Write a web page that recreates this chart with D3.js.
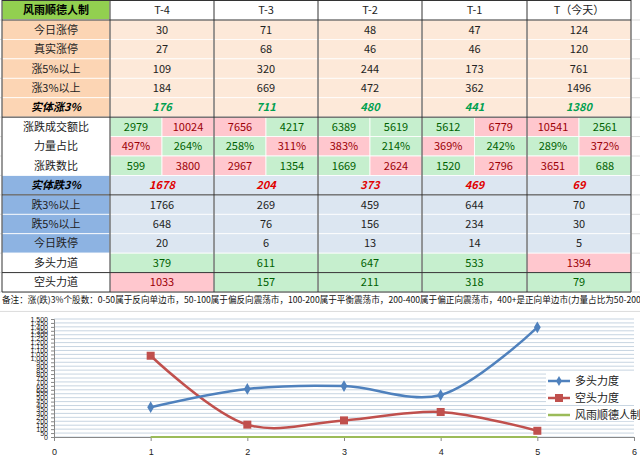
<!DOCTYPE html>
<html><head><meta charset="utf-8">
<script src="https://cdn.jsdelivr.net/npm/d3@7"></script>
<style>body{margin:0;background:#fff}svg{font-family:"Noto Sans CJK SC",sans-serif}</style>
</head><body><svg id="c" width="640" height="465"></svg>
<script>
const columns = ["T-4", "T-3", "T-2", "T-1", "T（今天）"];
const upRows = [
  ["今日涨停", [30, 71, 48, 47, 124]],
  ["真实涨停", [27, 68, 46, 46, 120]],
  ["涨5%以上", [109, 320, 244, 173, 761]],
  ["涨3%以上", [184, 669, 472, 362, 1496]]
];
const realUp = [176, 711, 480, 441, 1380];
const pairRows = [
  ["涨跌成交额比", [[2979, 10024], [7656, 4217], [6389, 5619], [5612, 6779], [10541, 2561]], ["gr", "rg", "gg", "gr", "rg"]],
  ["力量占比", [["497%", "264%"], ["258%", "311%"], ["383%", "214%"], ["369%", "242%"], ["289%", "372%"]], ["rg", "gr", "rg", "rg", "gr"]],
  ["涨跌数比", [[599, 3800], [2967, 1354], [1669, 2624], [1520, 2796], [3651, 688]], ["gr", "rg", "gr", "gr", "rg"]]
];
const realDown = [1678, 204, 373, 469, 69];
const downRows = [
  ["跌3%以上", [1766, 269, 459, 644, 70]],
  ["跌5%以上", [648, 76, 156, 234, 30]],
  ["今日跌停", [20, 6, 13, 14, 5]]
];
const bull = [379, 611, 647, 533, 1394];
const bear = [1033, 157, 211, 318, 79];
const bullColors = "ggggr", bearColors = "rgggg";
const xs = [1, 2, 3, 4, 5];
const note = "备注：涨(跌)3%个股数：0-50属于反向单边市，50-100属于偏反向震荡市，100-200属于平衡震荡市，200-400属于偏正向震荡市，400+是正向单边市(力量占比为50-200区间";

const svg = d3.select("#c");
const colX = [2, 110, 214, 318, 422, 527, 631];
const rowH = 19.43, top0 = 20;
const G = {bg: "#c6efce", fg: "#006100"}, R = {bg: "#ffc7ce", fg: "#9c0006"};

// background sheet grid
for (let yy = top0; yy < 316; yy += rowH) svg.append("line").attr("x1", 0).attr("x2", 640).attr("y1", yy).attr("y2", yy).attr("stroke", "#dcdcdc");

function cell(x0, x1, y, fill, text, color, style) {
  svg.append("rect").attr("x", x0).attr("y", y).attr("width", x1 - x0).attr("height", rowH).attr("fill", fill).attr("stroke", "#fff").attr("stroke-width", 0.8);
  const t = svg.append("text").attr("x", (x0 + x1) / 2).attr("y", y + rowH / 2 + 4).attr("text-anchor", "middle")
    .attr("font-size", 11).attr("fill", color || "#222").text(text);
  if (style) t.attr("font-weight", "bold").attr("font-style", "italic");
  return t;
}

// header
cell(colX[0], colX[1], 0, "#92d050", "风雨顺德人制", "#000", true).attr("font-style", "normal");
columns.forEach((c, i) => cell(colX[i + 1], colX[i + 2], 0, "#fff", c));
let r = 0;
const rowY = () => top0 + r * rowH;
upRows.forEach(([lab, v]) => {
  cell(colX[0], colX[1], rowY(), "#fcd5b4", lab);
  v.forEach((d, i) => cell(colX[i + 1], colX[i + 2], rowY(), "#fde9d9", d));
  r++;
});
cell(colX[0], colX[1], rowY(), "#fcd5b4", "实体涨3%", "#000", true);
realUp.forEach((d, i) => cell(colX[i + 1], colX[i + 2], rowY(), "#fde9d9", d, "#00a050", true));
r++;
pairRows.forEach(([lab, v, cols]) => {
  cell(colX[0], colX[1], rowY(), "#fff", lab);
  v.forEach((p, i) => {
    const mid = (colX[i + 1] + colX[i + 2]) / 2;
    const a = cols[i][0] === "g" ? G : R, b = cols[i][1] === "g" ? G : R;
    cell(colX[i + 1], mid, rowY(), a.bg, p[0], a.fg);
    cell(mid, colX[i + 2], rowY(), b.bg, p[1], b.fg);
  });
  r++;
});
cell(colX[0], colX[1], rowY(), "#8db3e2", "实体跌3%", "#000", true);
realDown.forEach((d, i) => cell(colX[i + 1], colX[i + 2], rowY(), "#dce6f1", d, "#e00000", true));
r++;
downRows.forEach(([lab, v]) => {
  cell(colX[0], colX[1], rowY(), "#8db3e2", lab);
  v.forEach((d, i) => cell(colX[i + 1], colX[i + 2], rowY(), "#dce6f1", d));
  r++;
});
[["多头力道", bull, bullColors], ["空头力道", bear, bearColors]].forEach(([lab, v, cs]) => {
  cell(colX[0], colX[1], rowY(), "#fff", lab);
  v.forEach((d, i) => { const c = cs[i] === "g" ? G : R; cell(colX[i + 1], colX[i + 2], rowY(), c.bg, d, c.fg); });
  r++;
});
const tableBottom = rowY();
colX.forEach(x => svg.append("line").attr("x1", x).attr("x2", x).attr("y1", 0).attr("y2", tableBottom).attr("stroke", "#333"));
[0.5, 1, 6, 10, 14].map(k => k === 0.5 ? 0.5 : top0 + (k - 1) * rowH).concat([tableBottom]).forEach(yy =>
  svg.append("line").attr("x1", colX[0]).attr("x2", colX[6]).attr("y1", yy).attr("y2", yy).attr("stroke", "#333"));
svg.append("text").attr("x", 2).attr("y", tableBottom + 11).attr("font-size", 8.6).attr("fill", "#111").text(note);

// chart
const x = d3.scaleLinear().domain([0, 6]).range([54, 634]);
const y = d3.scaleLinear().domain([0, 1500]).range([437, 319]);
const ticks = d3.range(0, 1501, 50);
svg.append("g").selectAll("line").data(ticks).join("line")
  .attr("x1", x(0)).attr("x2", x(6)).attr("y1", d => y(d)).attr("y2", d => y(d)).attr("stroke", "#b9c9d9").attr("stroke-width", 0.8);
svg.append("g").attr("transform", `translate(${x(0)},0)`).call(d3.axisLeft(y).tickValues(ticks).tickSize(3))
  .call(g => g.selectAll("text").attr("font-size", 7).attr("fill", "#222"))
  .call(g => g.selectAll("path,line").attr("stroke", "#888"));
svg.append("g").attr("transform", `translate(0,${y(0)})`).call(d3.axisBottom(x).ticks(6).tickSize(4))
  .call(g => g.selectAll("text").attr("font-size", 9).attr("fill", "#222").attr("dy", "1.2em"))
  .call(g => g.selectAll("path,line").attr("stroke", "#888"));

const line = d3.line().x((d, i) => x(xs[i])).y(d => y(d)).curve(d3.curveCatmullRom.alpha(0.5));
svg.append("path").attr("d", line(xs.map(() => 0))).attr("fill", "none").attr("stroke", "#9bbb59").attr("stroke-width", 2);
svg.append("path").attr("d", line(bear)).attr("fill", "none").attr("stroke", "#c0504d").attr("stroke-width", 2.5);
svg.append("path").attr("d", line(bull)).attr("fill", "none").attr("stroke", "#4f81bd").attr("stroke-width", 2.5);
svg.selectAll(".bq").data(bear).join("rect").attr("x", (d, i) => x(xs[i]) - 4).attr("y", d => y(d) - 4).attr("width", 8).attr("height", 8).attr("fill", "#c0504d");
svg.selectAll(".bd").data(bull).join("path").attr("d", d3.symbol(d3.symbolDiamond, 40))
  .attr("transform", (d, i) => `translate(${x(xs[i])},${y(d)})`).attr("fill", "#4f81bd");

const legend = [["多头力度", "#4f81bd", "d"], ["空头力度", "#c0504d", "s"], ["风雨顺德人制", "#9bbb59", ""]];
legend.forEach(([t, c, m], i) => {
  const ly = 381 + i * 17;
  svg.append("rect").attr("x", 546).attr("y", ly - 9).attr("width", 94).attr("height", 15).attr("fill", "#fff");
  svg.append("line").attr("x1", 548).attr("x2", 570).attr("y1", ly).attr("y2", ly).attr("stroke", c).attr("stroke-width", 2.5);
  if (m === "d") svg.append("path").attr("d", d3.symbol(d3.symbolDiamond, 30)).attr("transform", `translate(559,${ly})`).attr("fill", c);
  if (m === "s") svg.append("rect").attr("x", 555).attr("y", ly - 4).attr("width", 8).attr("height", 8).attr("fill", c);
  svg.append("text").attr("x", 575).attr("y", ly + 4).attr("font-size", 11).attr("fill", "#222").text(t);
});
</script></body></html>
